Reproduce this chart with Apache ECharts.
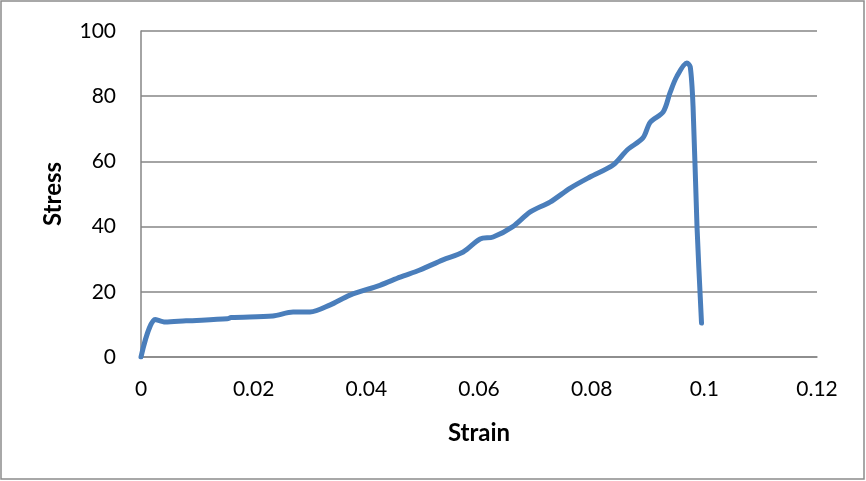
<!DOCTYPE html>
<html>
<head>
<meta charset="utf-8">
<script src="https://cdn.jsdelivr.net/npm/echarts@6/dist/echarts.min.js"></script>
<style>
  html, body { margin: 0; padding: 0; background: #fff; }
  #chart { width: 866px; height: 481px; }
</style>
</head>
<body>
<div id="chart"></div>
<script>
// Stress–strain curve of the tested specimen
const strain = [0, 0.0025, 0.0043, 0.008, 0.0153, 0.016, 0.0234, 0.027, 0.030, 0.0336, 0.0371,
  0.0424, 0.046, 0.0495, 0.0536, 0.0572, 0.0602, 0.0625, 0.066, 0.0691, 0.0726, 0.0762,
  0.0797, 0.0838, 0.0863, 0.0891, 0.0904, 0.0927, 0.0939, 0.0951, 0.0969, 0.0975,
  0.098, 0.0987, 0.0995];
const stress = [0, 11.5, 10.7, 11.1, 11.7, 12.1, 12.6, 13.8, 13.8, 16, 19,
  22, 24.5, 26.7, 29.8, 32.2, 36.2, 36.8, 40, 44.5, 47.5, 51.8,
  55.2, 58.9, 63.5, 67.2, 72, 75.2, 81, 86, 90.2, 89,
  76.7, 40, 10.4];
const xTicks = { min: 0, max: 0.12, step: 0.02 };
const yTicks = { min: 0, max: 100, step: 20 };

const chart = echarts.init(document.getElementById('chart'));
const font = 'Lato, "Open Sans", sans-serif';
chart.setOption({
  animation: false,
  graphic: [{
    type: 'rect',
    shape: { x: 1, y: 1, width: 863, height: 478 },
    style: { fill: 'none', stroke: '#8c8c8c', lineWidth: 1.5 }
  }],
  grid: { left: 141, top: 31, right: 49, bottom: 124 },
  xAxis: {
    type: 'value',
    min: xTicks.min, max: xTicks.max, interval: xTicks.step,
    name: 'Strain',
    nameLocation: 'middle',
    nameGap: 64,
    nameTextStyle: { fontFamily: font, fontSize: 24, fontWeight: 'bold', color: '#000' },
    axisLine: { show: true, lineStyle: { color: '#868686', width: 1.5 } },
    axisTick: { show: false },
    splitLine: { show: false },
    axisLabel: { fontFamily: font, fontSize: 21, color: '#000', margin: 22,
      formatter: v => String(+v.toFixed(2)) }
  },
  yAxis: {
    type: 'value',
    min: yTicks.min, max: yTicks.max, interval: yTicks.step,
    name: 'Stress',
    nameLocation: 'middle',
    nameGap: 76,
    nameTextStyle: { fontFamily: font, fontSize: 24, fontWeight: 'bold', color: '#000' },
    axisLine: { show: true, lineStyle: { color: '#868686', width: 1.5 } },
    axisTick: { show: false },
    splitLine: { show: true, lineStyle: { color: '#868686', width: 1.5 } },
    axisLabel: { fontFamily: font, fontSize: 21, color: '#000', margin: 25 }
  },
  series: [{
    type: 'line',
    data: strain.map((s, i) => [s, stress[i]]),
    smooth: 0.3,
    showSymbol: false,
    lineStyle: { color: '#4a7ebb', width: 5, cap: 'round', join: 'round' }
  }]
});
</script>
</body>
</html>
